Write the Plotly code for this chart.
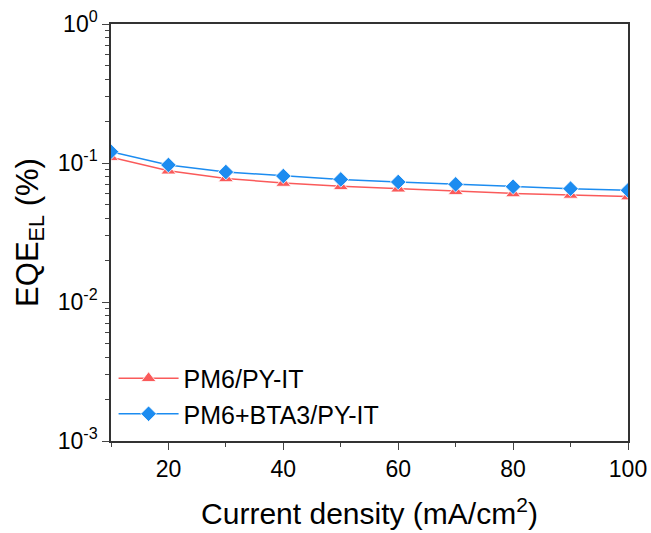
import plotly.graph_objects as go

current_density = [10, 20, 30, 40, 50, 60, 70, 80, 90, 100]
eqe_pm6_pyit = [0.110, 0.088, 0.0775, 0.0718, 0.0679, 0.0653, 0.0625, 0.0604, 0.0589, 0.0573]
eqe_pm6_bta3_pyit = [0.1205, 0.0968, 0.0861, 0.0806, 0.0762, 0.0730, 0.0702, 0.0675, 0.0654, 0.0636]

y_tickvals = [1e-3, 1e-2, 1e-1, 1]
y_ticktext = ["10<sup>-3</sup>", "10<sup>-2</sup>", "10<sup>-1</sup>", "10<sup>0</sup>"]
x_tickvals = [20, 40, 60, 80, 100]

RED = "#FA5A5A"
BLUE = "#1C8CF0"
FONT = "Liberation Sans, Arial, sans-serif"

fig = go.Figure()
fig.add_trace(go.Scatter(
    x=current_density, y=eqe_pm6_pyit, name="PM6/PY-IT", mode="lines+markers",
    line=dict(color=RED, width=1.5),
    marker=dict(symbol="triangle-up", size=13, color=RED, line=dict(color="white", width=0.8)),
))
fig.add_trace(go.Scatter(
    x=current_density, y=eqe_pm6_bta3_pyit, name="PM6+BTA3/PY-IT", mode="lines+markers",
    line=dict(color=BLUE, width=1.5),
    marker=dict(symbol="diamond", size=12, color=BLUE, line=dict(color="white", width=0.8)),
))

fig.update_layout(
    width=651, height=533,
    margin=dict(l=111, r=23, t=24, b=92),
    paper_bgcolor="white", plot_bgcolor="white",
    font=dict(family=FONT, color="black", size=23),
    showlegend=True,
    legend=dict(x=0.005, y=0.205, xanchor="left", yanchor="top",
                bgcolor="rgba(0,0,0,0)", font=dict(size=25), itemwidth=60,
                tracegroupgap=0),
)
fig.update_xaxes(
    range=[10, 100], tickvals=x_tickvals, ticks="outside", ticklen=7, tickwidth=1.2,
    showline=True, linecolor="#333", linewidth=1.5, mirror=True, showgrid=False, zeroline=False,
    automargin=False,
    minor=dict(tickvals=[10, 30, 50, 70, 90], ticks="outside", ticklen=4, tickwidth=1.2, showgrid=False),
    title=dict(text="Current density (mA/cm<sup>2</sup>)", font=dict(size=30), standoff=22),
    tickfont=dict(size=23),
)
fig.update_yaxes(
    type="log", range=[-3, 0], tickvals=y_tickvals, ticktext=y_ticktext,
    ticks="outside", ticklen=7, tickwidth=1.2,
    showline=True, linecolor="#333", linewidth=1.5, mirror=True, showgrid=False, zeroline=False,
    automargin=False,
    minor=dict(ticks="outside", ticklen=4, tickwidth=1.2, showgrid=False,
               tickvals=[m * 10 ** e for e in (-3, -2, -1) for m in range(2, 10)]),
    title=dict(text="EQE<sub>EL</sub> (%)", font=dict(size=31), standoff=10),
    tickfont=dict(size=23),
)

fig.write_html("out.html")
